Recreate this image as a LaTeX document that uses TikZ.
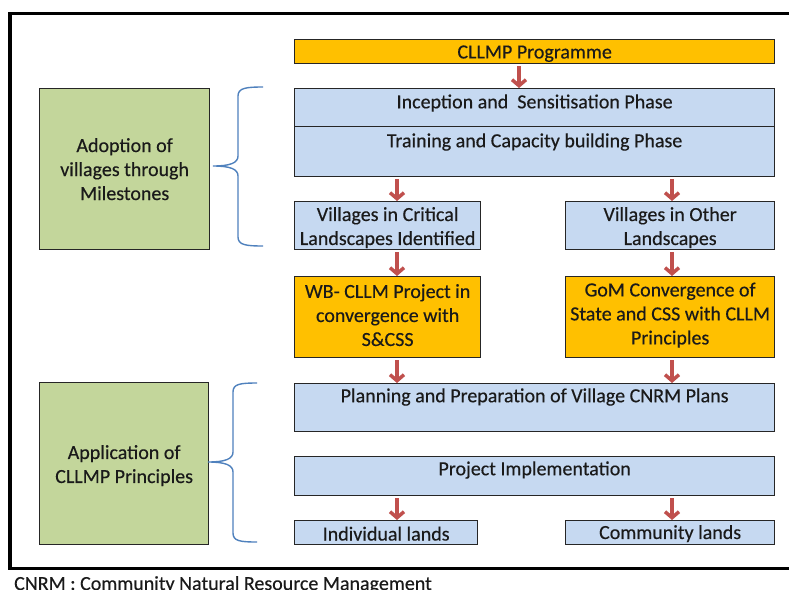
\documentclass[tikz,border=0pt]{standalone}
\usepackage{fontspec}
\setmainfont{Carlito}[FakeBold=0.35]
\usetikzlibrary{arrows.meta,calc}
\definecolor{orangeF}{HTML}{FFC000}
\definecolor{blueF}{HTML}{C6D9F1}
\definecolor{greenF}{HTML}{C3D69B}
\definecolor{arrowC}{HTML}{C0504D}
\definecolor{braceC}{HTML}{4F81BD}
\definecolor{txt}{HTML}{1A1A1A}
\begin{document}
\begin{tikzpicture}[x=1pt,y=-1pt,
  box/.style={draw=black!85, line width=1.3pt, anchor=north west, inner sep=0pt},
  orangebox/.style={box, fill=orangeF},
  bluebox/.style={box, fill=blueF},
  greenbox/.style={box, fill=greenF},
  rarrow/.style={draw=arrowC, line width=3.5pt, -{Straight Barb[length=6pt,width=14pt]}},
  bracestyle/.style={draw=braceC, line width=1.4pt},
  lab/.style={text=txt, font=\fontsize{20}{24}\selectfont, inner sep=0pt, align=center}
]
\useasboundingbox (0,0) rectangle (789,589);
\clip (0,0) rectangle (789,589);
\fill[white] (0,0) rectangle (789,589);

% outer frame
\draw[line width=3.8pt] (820,13.5) -- (10,13.5) -- (10,568.5) -- (820,568.5);

% column coordinates for arrows
\coordinate (c1) at (519,0);
\coordinate (cL) at (397,0);
\coordinate (cR) at (672,0);

% boxes
\node[orangebox, minimum width=480pt, minimum height=24pt] (prog) at (294,39) {};
\node[bluebox, minimum width=480pt, minimum height=38pt] (incep) at (294,88) {};
\node[bluebox, minimum width=480pt, minimum height=50pt] (train) at (294,126) {};
\node[bluebox, minimum width=186pt, minimum height=48pt] (crit) at (294,201) {};
\node[bluebox, minimum width=209pt, minimum height=48pt] (other) at (565,201) {};
\node[orangebox, minimum width=186pt, minimum height=81pt] (wb) at (294,276) {};
\node[orangebox, minimum width=209pt, minimum height=81pt] (gom) at (565,276) {};
\node[bluebox, minimum width=480pt, minimum height=48pt] (plan) at (294,383) {};
\node[bluebox, minimum width=480pt, minimum height=39pt] (impl) at (294,456) {};
\node[bluebox, minimum width=183pt, minimum height=24pt] (indiv) at (294,520) {};
\node[bluebox, minimum width=209pt, minimum height=24pt] (comm) at (565,520) {};
\node[greenbox, minimum width=170pt, minimum height=161pt] (g1) at (39,88) {};
\node[greenbox, minimum width=169pt, minimum height=162pt] (g2) at (39,382) {};

% texts
\node[lab] (progT) at ($(prog.center)+(0,2)$) {CLLMP Programme};
\node[lab] (incepT) at ($(incep.north)+(0,15)$) {Inception and\ \ Sensitisation Phase};
\node[lab] (trainT) at ($(train.north)+(0,16)$) {Training and Capacity building Phase};
\node[lab] (critT) at ($(crit.center)+(0,2)$) {Villages in Critical\\Landscapes Identified};
\node[lab] (otherT) at ($(other.center)+(0,2)$) {Villages in Other\\Landscapes};
\node[lab] (wbT) at ($(wb.center)+(0,-2)$) {WB- CLLM Project in\\convergence with\\S\&CSS};
\node[lab] (gomT) at ($(gom.center)+(0,-2)$) {GoM Convergence of\\State and CSS with CLLM\\Principles};
\node[lab] (planT) at ($(plan.north)+(0,14)$) {Planning and Preparation of Village CNRM Plans};
\node[lab] (implT) at ($(impl.north)+(0,14)$) {Project Implementation};
\node[lab] (indivT) at ($(indiv.center)+(0,1)$) {Individual lands};
\node[lab] (commT) at ($(comm.center)+(0,1)$) {Community lands};
\node[lab] (g1T) at ($(g1.center)+(0,0)$) {Adoption of\\villages through\\Milestones};
\node[lab] (g2T) at ($(g2.center)+(0,2)$) {Application of\\CLLMP Principles};

% arrows
\draw[rarrow] ($(prog.south -| c1)+(0,2)$) -- (incep.north -| c1);
\draw[rarrow] ($(train.south -| cL)+(0,2)$) -- (crit.north -| cL);
\draw[rarrow] ($(train.south -| cR)+(0,2)$) -- (other.north -| cR);
\draw[rarrow] ($(crit.south -| cL)+(0,2)$) -- (wb.north -| cL);
\draw[rarrow] ($(other.south -| cR)+(0,2)$) -- (gom.north -| cR);
\draw[rarrow] ($(wb.south -| cL)+(0,2)$) -- (plan.north -| cL);
\draw[rarrow] ($(gom.south -| cR)+(0,2)$) -- (plan.north -| cR);
\draw[rarrow] ($(impl.south -| cL)+(0,2)$) -- (indiv.north -| cL);
\draw[rarrow] ($(impl.south -| cR)+(0,2)$) -- (comm.north -| cR);

% braces
\draw[bracestyle] (263,87) .. controls (246,87) and (238,88) .. (238,96) -- (238,156)
  .. controls (238,163) and (230,166) .. (213,166)
  .. controls (230,166) and (238,169) .. (238,176) -- (238,237)
  .. controls (238,245) and (246,246) .. (263,246);
\draw[bracestyle] (257,383) .. controls (240,383) and (233,384) .. (233,392) -- (233,452)
  .. controls (233,459) and (225,462) .. (208,462)
  .. controls (225,462) and (233,465) .. (233,472) -- (233,533)
  .. controls (233,541) and (240,542) .. (257,542);

% footer
\node[lab, anchor=base west] (foot) at (14,590) {CNRM : Community Natural Resource Management};
\end{tikzpicture}
\end{document}
